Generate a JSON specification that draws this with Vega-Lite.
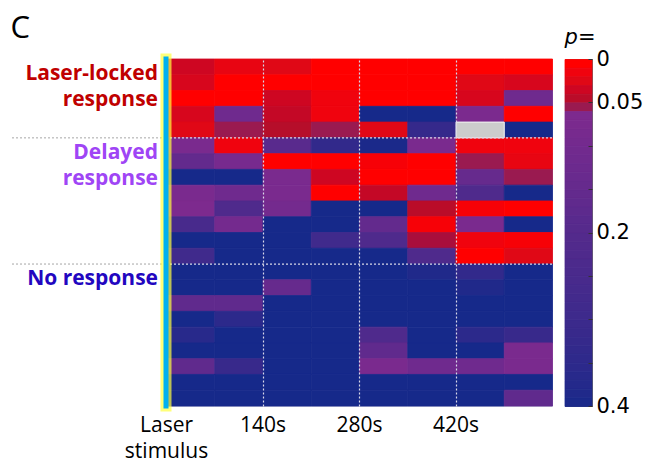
{
  "$schema": "https://vega.github.io/schema/vega-lite/v6.json",
  "padding": {"left": 10, "top": 12, "right": 5, "bottom": 5},
  "bounds": "flush",
  "spacing": 0,
  "title": {"text": "C", "anchor": "start", "font": "Open Sans", "fontSize": 31, "fontWeight": "normal", "color": "#000000", "offset": -18},
  "config": {"view": {"stroke": null}},
  "datasets": {
    "groups": [
      {"group": "Laser-locked", "text": ["Laser-locked", "response"], "row": 1},
      {"group": "Delayed", "text": ["Delayed", "response"], "row": 6},
      {"group": "None", "text": ["No response"], "row": 14}
    ],
    "seps": [{"b": 5}, {"b": 13}],
    "laser": [{"t": 0}],
    "bar": [
      {"lo": 0}, {"lo": 0.01}, {"lo": 0.02}, {"lo": 0.03}, {"lo": 0.04}, {"lo": 0.05}, {"lo": 0.06}, {"lo": 0.07}, {"lo": 0.08}, {"lo": 0.09},
      {"lo": 0.1}, {"lo": 0.11}, {"lo": 0.12}, {"lo": 0.13}, {"lo": 0.14}, {"lo": 0.15}, {"lo": 0.16}, {"lo": 0.17}, {"lo": 0.18}, {"lo": 0.19},
      {"lo": 0.2}, {"lo": 0.21}, {"lo": 0.22}, {"lo": 0.23}, {"lo": 0.24}, {"lo": 0.25}, {"lo": 0.26}, {"lo": 0.27}, {"lo": 0.28}, {"lo": 0.29},
      {"lo": 0.3}, {"lo": 0.31}, {"lo": 0.32}, {"lo": 0.33}, {"lo": 0.34}, {"lo": 0.35}, {"lo": 0.36}, {"lo": 0.37}, {"lo": 0.38}, {"lo": 0.39}
    ],
    "cells": [
      {"r": 0, "t": 0, "p": 0.03}, {"r": 0, "t": 70, "p": 0.015}, {"r": 0, "t": 140, "p": 0.02}, {"r": 0, "t": 210, "p": 0}, {"r": 0, "t": 280, "p": 0}, {"r": 0, "t": 350, "p": 0}, {"r": 0, "t": 420, "p": 0}, {"r": 0, "t": 490, "p": 0},
      {"r": 1, "t": 0, "p": 0.025}, {"r": 1, "t": 70, "p": 0}, {"r": 1, "t": 140, "p": 0}, {"r": 1, "t": 210, "p": 0}, {"r": 1, "t": 280, "p": 0}, {"r": 1, "t": 350, "p": 0}, {"r": 1, "t": 420, "p": 0.02}, {"r": 1, "t": 490, "p": 0.025},
      {"r": 2, "t": 0, "p": 0}, {"r": 2, "t": 70, "p": 0}, {"r": 2, "t": 140, "p": 0.03}, {"r": 2, "t": 210, "p": 0.01}, {"r": 2, "t": 280, "p": 0}, {"r": 2, "t": 350, "p": 0}, {"r": 2, "t": 420, "p": 0.025}, {"r": 2, "t": 490, "p": 0.11},
      {"r": 3, "t": 0, "p": 0.025}, {"r": 3, "t": 70, "p": 0.11}, {"r": 3, "t": 140, "p": 0.035}, {"r": 3, "t": 210, "p": 0.01}, {"r": 3, "t": 280, "p": 0.4}, {"r": 3, "t": 350, "p": 0.4}, {"r": 3, "t": 420, "p": 0.065}, {"r": 3, "t": 490, "p": 0},
      {"r": 4, "t": 0, "p": 0.02}, {"r": 4, "t": 70, "p": 0.05}, {"r": 4, "t": 140, "p": 0.042}, {"r": 4, "t": 210, "p": 0.05}, {"r": 4, "t": 280, "p": 0.02}, {"r": 4, "t": 350, "p": 0.32}, {"r": 4, "t": 420, "p": null}, {"r": 4, "t": 490, "p": 0.4},
      {"r": 5, "t": 0, "p": 0.07}, {"r": 5, "t": 70, "p": 0.01}, {"r": 5, "t": 140, "p": 0.18}, {"r": 5, "t": 210, "p": 0.33}, {"r": 5, "t": 280, "p": 0.39}, {"r": 5, "t": 350, "p": 0.07}, {"r": 5, "t": 420, "p": 0.01}, {"r": 5, "t": 490, "p": 0.01},
      {"r": 6, "t": 0, "p": 0.15}, {"r": 6, "t": 70, "p": 0.08}, {"r": 6, "t": 140, "p": 0}, {"r": 6, "t": 210, "p": 0}, {"r": 6, "t": 280, "p": 0.005}, {"r": 6, "t": 350, "p": 0}, {"r": 6, "t": 420, "p": 0.05}, {"r": 6, "t": 490, "p": 0.015},
      {"r": 7, "t": 0, "p": 0.4}, {"r": 7, "t": 70, "p": 0.4}, {"r": 7, "t": 140, "p": 0.07}, {"r": 7, "t": 210, "p": 0.03}, {"r": 7, "t": 280, "p": 0}, {"r": 7, "t": 350, "p": 0}, {"r": 7, "t": 420, "p": 0.14}, {"r": 7, "t": 490, "p": 0.05},
      {"r": 8, "t": 0, "p": 0.07}, {"r": 8, "t": 70, "p": 0.11}, {"r": 8, "t": 140, "p": 0.07}, {"r": 8, "t": 210, "p": 0}, {"r": 8, "t": 280, "p": 0.035}, {"r": 8, "t": 350, "p": 0.11}, {"r": 8, "t": 420, "p": 0.22}, {"r": 8, "t": 490, "p": 0.4},
      {"r": 9, "t": 0, "p": 0.06}, {"r": 9, "t": 70, "p": 0.22}, {"r": 9, "t": 140, "p": 0.09}, {"r": 9, "t": 210, "p": 0.4}, {"r": 9, "t": 280, "p": 0.4}, {"r": 9, "t": 350, "p": 0.04}, {"r": 9, "t": 420, "p": 0.005}, {"r": 9, "t": 490, "p": 0},
      {"r": 10, "t": 0, "p": 0.25}, {"r": 10, "t": 70, "p": 0.09}, {"r": 10, "t": 140, "p": 0.4}, {"r": 10, "t": 210, "p": 0.4}, {"r": 10, "t": 280, "p": 0.15}, {"r": 10, "t": 350, "p": 0.005}, {"r": 10, "t": 420, "p": 0.07}, {"r": 10, "t": 490, "p": 0.4},
      {"r": 11, "t": 0, "p": 0.4}, {"r": 11, "t": 70, "p": 0.4}, {"r": 11, "t": 140, "p": 0.4}, {"r": 11, "t": 210, "p": 0.28}, {"r": 11, "t": 280, "p": 0.22}, {"r": 11, "t": 350, "p": 0.047}, {"r": 11, "t": 420, "p": 0.01}, {"r": 11, "t": 490, "p": 0.005},
      {"r": 12, "t": 0, "p": 0.28}, {"r": 12, "t": 70, "p": 0.4}, {"r": 12, "t": 140, "p": 0.4}, {"r": 12, "t": 210, "p": 0.4}, {"r": 12, "t": 280, "p": 0.4}, {"r": 12, "t": 350, "p": 0.22}, {"r": 12, "t": 420, "p": 0}, {"r": 12, "t": 490, "p": 0.02},
      {"r": 13, "t": 0, "p": 0.4}, {"r": 13, "t": 70, "p": 0.4}, {"r": 13, "t": 140, "p": 0.4}, {"r": 13, "t": 210, "p": 0.4}, {"r": 13, "t": 280, "p": 0.4}, {"r": 13, "t": 350, "p": 0.38}, {"r": 13, "t": 420, "p": 0.33}, {"r": 13, "t": 490, "p": 0.4},
      {"r": 14, "t": 0, "p": 0.4}, {"r": 14, "t": 70, "p": 0.4}, {"r": 14, "t": 140, "p": 0.14}, {"r": 14, "t": 210, "p": 0.4}, {"r": 14, "t": 280, "p": 0.4}, {"r": 14, "t": 350, "p": 0.4}, {"r": 14, "t": 420, "p": 0.38}, {"r": 14, "t": 490, "p": 0.4},
      {"r": 15, "t": 0, "p": 0.16}, {"r": 15, "t": 70, "p": 0.16}, {"r": 15, "t": 140, "p": 0.4}, {"r": 15, "t": 210, "p": 0.4}, {"r": 15, "t": 280, "p": 0.4}, {"r": 15, "t": 350, "p": 0.4}, {"r": 15, "t": 420, "p": 0.4}, {"r": 15, "t": 490, "p": 0.4},
      {"r": 16, "t": 0, "p": 0.4}, {"r": 16, "t": 70, "p": 0.35}, {"r": 16, "t": 140, "p": 0.4}, {"r": 16, "t": 210, "p": 0.4}, {"r": 16, "t": 280, "p": 0.4}, {"r": 16, "t": 350, "p": 0.4}, {"r": 16, "t": 420, "p": 0.4}, {"r": 16, "t": 490, "p": 0.4},
      {"r": 17, "t": 0, "p": 0.36}, {"r": 17, "t": 70, "p": 0.4}, {"r": 17, "t": 140, "p": 0.4}, {"r": 17, "t": 210, "p": 0.4}, {"r": 17, "t": 280, "p": 0.22}, {"r": 17, "t": 350, "p": 0.4}, {"r": 17, "t": 420, "p": 0.35}, {"r": 17, "t": 490, "p": 0.31},
      {"r": 18, "t": 0, "p": 0.4}, {"r": 18, "t": 70, "p": 0.4}, {"r": 18, "t": 140, "p": 0.4}, {"r": 18, "t": 210, "p": 0.4}, {"r": 18, "t": 280, "p": 0.16}, {"r": 18, "t": 350, "p": 0.4}, {"r": 18, "t": 420, "p": 0.4}, {"r": 18, "t": 490, "p": 0.07},
      {"r": 19, "t": 0, "p": 0.16}, {"r": 19, "t": 70, "p": 0.31}, {"r": 19, "t": 140, "p": 0.4}, {"r": 19, "t": 210, "p": 0.4}, {"r": 19, "t": 280, "p": 0.07}, {"r": 19, "t": 350, "p": 0.11}, {"r": 19, "t": 420, "p": 0.11}, {"r": 19, "t": 490, "p": 0.07},
      {"r": 20, "t": 0, "p": 0.4}, {"r": 20, "t": 70, "p": 0.4}, {"r": 20, "t": 140, "p": 0.4}, {"r": 20, "t": 210, "p": 0.4}, {"r": 20, "t": 280, "p": 0.4}, {"r": 20, "t": 350, "p": 0.4}, {"r": 20, "t": 420, "p": 0.4}, {"r": 20, "t": 490, "p": 0.4},
      {"r": 21, "t": 0, "p": 0.4}, {"r": 21, "t": 70, "p": 0.4}, {"r": 21, "t": 140, "p": 0.4}, {"r": 21, "t": 210, "p": 0.4}, {"r": 21, "t": 280, "p": 0.4}, {"r": 21, "t": 350, "p": 0.4}, {"r": 21, "t": 420, "p": 0.4}, {"r": 21, "t": 490, "p": 0.16}
    ]
  },
  "hconcat": [
    {
      "width": 155,
      "height": 347,
      "layer": [
        {
          "data": {"name": "seps"},
          "mark": {"type": "rule", "color": "#a6a6a6", "strokeWidth": 1, "strokeDash": [2, 2]},
          "encoding": {
            "y": {"field": "b", "type": "ordinal", "bandPosition": 0, "axis": null,
                  "scale": {"domain": [0,1,2,3,4,5,6,7,8,9,10,11,12,13,14,15,16,17,18,19,20,21], "paddingInner": 0, "paddingOuter": 0}}
          }
        },
        {
          "data": {"name": "groups"},
          "mark": {"type": "text", "align": "right", "baseline": "alphabetic", "font": "Open Sans", "fontSize": 21, "fontWeight": "bold", "lineHeight": 26, "dx": -8, "dy": -3},
          "encoding": {
            "x": {"value": "width"},
            "y": {"field": "row", "type": "ordinal", "axis": null,
                  "scale": {"domain": [0,1,2,3,4,5,6,7,8,9,10,11,12,13,14,15,16,17,18,19,20,21], "paddingInner": 0, "paddingOuter": 0}},
            "text": {"field": "text"},
            "fill": {"field": "group", "type": "nominal", "legend": null,
                     "scale": {"domain": ["Laser-locked", "Delayed", "None"], "range": ["#c00000", "#9f45f5", "#2206c0"]}}
          }
        }
      ]
    },
    {
      "bounds": "flush",
      "spacing": 13,
      "hconcat": [
        {
          "width": 386,
          "height": 347,
          "view": {"stroke": "#c8c8dc"},
          "layer": [
            {
              "data": {"name": "cells"},
              "transform": [{"filter": "isValid(datum.p)"}],
              "mark": {"type": "rect", "strokeWidth": 0.8},
              "encoding": {
                "x": {"field": "t", "type": "quantitative", "bin": {"binned": true, "step": 70},
                      "scale": {"domain": [0, 560], "nice": false, "zero": false},
                      "axis": {"values": [0, 140, 280, 420], "labelExpr": "datum.value == 0 ? ['Laser', 'stimulus'] : datum.value + 's'",
                               "title": null, "domain": false, "ticks": false, "grid": true, "gridColor": "#d8d8e8", "gridDash": [2, 2], "gridWidth": 1.2,
                               "gridOpacity": {"condition": {"test": "datum.value == 0", "value": 0}, "value": 1},
                               "labelFont": "Open Sans", "labelFontSize": 21, "labelColor": "#000000", "labelPadding": 8, "labelLineHeight": 26,
                               "labelBaseline": "top", "labelFlush": false, "labelOverlap": false, "zindex": 1}},
                "y": {"field": "r", "type": "ordinal", "axis": null,
                      "scale": {"domain": [0,1,2,3,4,5,6,7,8,9,10,11,12,13,14,15,16,17,18,19,20,21], "paddingInner": 0, "paddingOuter": 0}},
                "color": {"field": "p", "type": "quantitative", "legend": null,
                          "scale": {"domain": [0, 0.02, 0.045, 0.05, 0.055, 0.2, 0.4],
                                    "range": ["#ff0000", "#e00816", "#b0102c", "#9a1a50", "#7e2a8e", "#532a8c", "#16298a"]}},
                "stroke": {"field": "p", "type": "quantitative", "legend": null,
                          "scale": {"domain": [0, 0.02, 0.045, 0.05, 0.055, 0.2, 0.4],
                                    "range": ["#ff0000", "#e00816", "#b0102c", "#9a1a50", "#7e2a8e", "#532a8c", "#16298a"]}}
              }
            },
            {
              "data": {"name": "cells"},
              "transform": [{"filter": "!isValid(datum.p)"}],
              "mark": {"type": "rect", "color": "#cccccc", "stroke": "#f4f4f4", "strokeWidth": 1},
              "encoding": {
                "x": {"field": "t", "type": "quantitative", "bin": {"binned": true, "step": 70}},
                "y": {"field": "r", "type": "ordinal"}
              }
            },
            {
              "data": {"name": "seps"},
              "mark": {"type": "rule", "color": "#d8d8e8", "strokeWidth": 1.2, "strokeDash": [2, 2]},
              "encoding": {
                "y": {"field": "b", "type": "ordinal", "bandPosition": 0}
              }
            },
            {
              "data": {"name": "laser"},
              "mark": {"type": "rule", "color": "#ffff40", "strokeWidth": 11, "opacity": 0.7, "strokeCap": "square"},
              "encoding": {"x": {"field": "t", "type": "quantitative"}}
            },
            {
              "data": {"name": "laser"},
              "mark": {"type": "rule", "color": "#00b0f0", "strokeWidth": 5, "strokeCap": "square"},
              "encoding": {"x": {"field": "t", "type": "quantitative"}}
            }
          ]
        },
        {
          "width": 27,
          "height": 347,
          "title": {"text": "p=", "anchor": "start", "font": "DejaVu Sans", "fontSize": 21, "fontStyle": "italic", "fontWeight": "normal", "color": "#000000", "offset": -21, "baseline": "bottom"},
          "view": {"stroke": "#6e6e6e", "strokeWidth": 1},
          "data": {"name": "bar"},
          "mark": {"type": "rect", "strokeWidth": 0.8},
          "encoding": {
            "y": {"field": "lo", "type": "quantitative", "bin": {"binned": true, "step": 0.01},
                  "scale": {"domain": [0, 0.4], "reverse": true, "nice": false, "zero": false},
                  "axis": {"orient": "right", "values": [0, 0.05, 0.1, 0.15, 0.2, 0.25, 0.3, 0.35, 0.4],
                           "labelExpr": "datum.value == 0 ? '0' : datum.value == 0.05 ? '0.05' : datum.value == 0.2 ? '0.2' : datum.value == 0.4 ? '0.4' : ''",
                           "title": null, "domain": false, "grid": false, "ticks": true, "tickSize": -4, "tickColor": "#333333", "tickWidth": 1,
                           "labelPadding": 8, "labelFont": "DejaVu Sans", "labelFontSize": 21, "labelColor": "#000000",
                           "labelFlush": false, "labelOverlap": false, "labelBaseline": "middle", "zindex": 1}},
            "color": {"field": "lo", "type": "quantitative", "legend": null,
                      "scale": {"domain": [0, 0.02, 0.045, 0.05, 0.055, 0.2, 0.4],
                                "range": ["#ff0000", "#e00816", "#b0102c", "#9a1a50", "#7e2a8e", "#532a8c", "#16298a"]}},
            "stroke": {"field": "lo", "type": "quantitative", "legend": null,
                      "scale": {"domain": [0, 0.02, 0.045, 0.05, 0.055, 0.2, 0.4],
                                "range": ["#ff0000", "#e00816", "#b0102c", "#9a1a50", "#7e2a8e", "#532a8c", "#16298a"]}}
          }
        }
      ]
    }
  ]
}
